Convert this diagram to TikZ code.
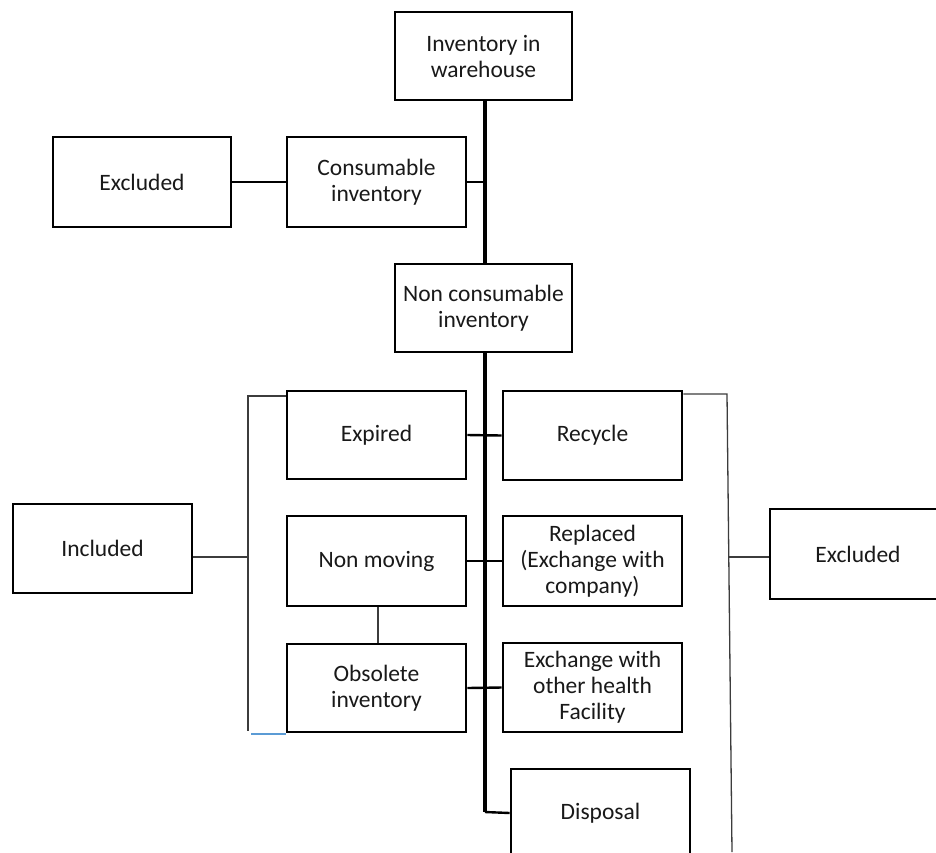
\documentclass[tikz,border=0pt]{standalone}
\usepackage{fontspec}
\setmainfont{Carlito}
\definecolor{txt}{RGB}{25,25,25}
\definecolor{thin}{RGB}{60,60,60}
\definecolor{lblue}{RGB}{91,155,213}
\begin{document}
\begin{tikzpicture}[x=1pt,y=-1pt,
  box/.style={draw=black,line width=2.6pt,rectangle,minimum width=179pt,minimum height=89pt,
    inner sep=0pt,align=center,text=txt,font=\fontsize{23.5}{26}\selectfont},
  trunk/.style={line width=3.4pt},
  link/.style={line width=2.4pt},
  bracket/.style={draw=thin,line width=1.3pt}]
\useasboundingbox (0,0) rectangle (936,852);
\clip (0,0) rectangle (936,852);
\fill[white] (0,0) rectangle (936,852);
\node[box,minimum width=177pt,minimum height=88pt] (inv) at (483.5,56) {Inventory in\\warehouse};
\node[box,minimum height=90pt] (cons) at (376.5,182) {Consumable\\inventory};
\node[box,minimum width=178pt,minimum height=90pt] (exca) at (142,182) {Excluded};
\node[box,minimum width=177pt,minimum height=88pt] (noncons) at (483.5,308) {Non consumable\\inventory};
\node[box,minimum height=88pt] (expired) at (376.5,435) {Expired};
\node[box] (recycle) at (592.5,435.5) {Recycle};
\node[box,minimum height=90pt] (nonmov) at (376.5,561) {Non moving};
\node[box,minimum height=90pt] (replaced) at (592.5,561) {Replaced\\(Exchange with\\company)};
\node[box,minimum height=88pt] (obsolete) at (376.5,688) {Obsolete\\inventory};
\node[box] (exchange) at (592.5,687.5) {Exchange with\\other health\\Facility};
\node[box,minimum height=88pt] (disposal) at (600.5,813) {Disposal};
\node[box] (included) at (102.5,548.5) {Included};
\node[box,minimum width=176pt,minimum height=90pt] (excb) at (858,554) {Excluded};
% trunk
\coordinate (tb) at (485,812);
\draw[trunk] (inv.south -| tb) -- (noncons.north -| tb);
\draw[trunk] (noncons.south -| tb) -- (tb);
\draw[link] (tb) -- (disposal.west);
\coordinate (tc) at (485,182);
\draw[link] (cons.east) -- (tc);
\draw[link] (exca.east) -- (cons.west);
\draw[link] (expired.east) -- (recycle.west);
\draw[link] (nonmov.east) -- (replaced.west);
\draw[link] (obsolete.east) -- (exchange.west);
\draw[bracket] ([xshift=1.5pt]nonmov.south) -- ([xshift=1.5pt]obsolete.north);
% left bracket
\coordinate (lt) at (248,396);
\coordinate (lb) at (248,731);
\coordinate (lm) at (248,557);
\draw[bracket] (expired.north west |- lt) -- (lt) -- (lb);
\draw[draw=lblue,line width=1.3pt] (251,734) -- (obsolete.south west |- 0,734);
\draw[bracket] (included.east |- lm) -- (lm);
% right bracket
\coordinate (rt) at (727,394);
\coordinate (rb) at (732,852);
\coordinate (rm) at (728.5,557);
\draw[bracket] (recycle.north east |- rt) -- (rt) -- (rb);
\draw[bracket] (rm) -- (rm -| excb.west);
\end{tikzpicture}
\end{document}
